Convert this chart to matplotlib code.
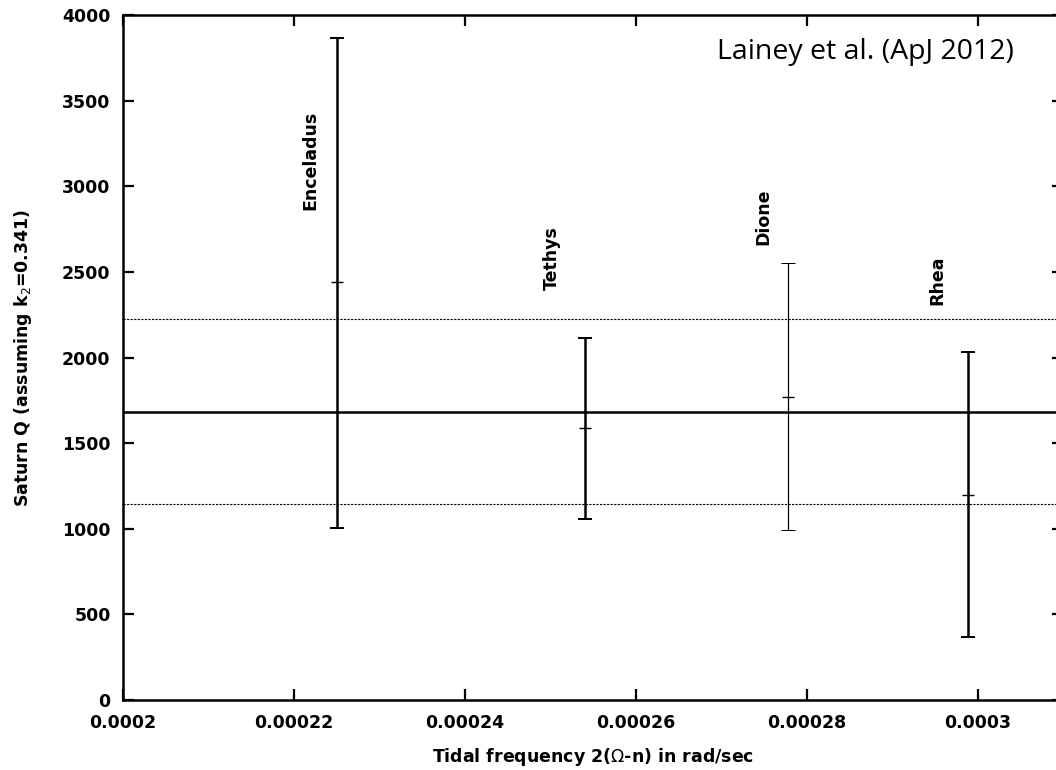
import numpy as np
from matplotlib import pyplot as plt

# Saturn Q estimates from each moon's tidal frequency
moons = ["Enceladus", "Tethys", "Dione", "Rhea"]
freq = [0.000225, 0.000254, 0.0002778, 0.0002988]
q_mid = [2440, 1588, 1768, 1199]
q_low = [1005, 1056, 993, 370]
q_high = [3867, 2116, 2550, 2030]
bar_widths = [1.8, 1.8, 0.9, 1.8]

# label anchors (start of the rotated text)
label_x = [0.0002219, 0.0002502, 0.0002749, 0.0002953]
label_y = [2861, 2394, 2657, 2307]

q_mean = 1684
q_band = [1145, 2223]

xticks = [0.0002, 0.00022, 0.00024, 0.00026, 0.00028, 0.0003]
xticklabels = ["0.0002", "0.00022", "0.00024", "0.00026", "0.00028", "0.0003"]
yticks = [0, 500, 1000, 1500, 2000, 2500, 3000, 3500, 4000]

plt.rcParams["font.family"] = ["DejaVu Sans"]
fig = plt.figure(figsize=(10.56, 7.7), dpi=100)
ax = fig.add_axes([0.1165, 0.0909, 0.8906, 0.8896])

ax.axhline(q_mean, color="black", linewidth=1.8)
for level in q_band:
    ax.axhline(level, color="black", linewidth=0.8, linestyle=(0, (2, 1.2)))

for i in range(len(moons)):
    ax.errorbar(
        freq[i], q_mid[i],
        yerr=[[q_mid[i] - q_low[i]], [q_high[i] - q_mid[i]]],
        fmt="none", ecolor="black", elinewidth=bar_widths[i],
        capsize=4.7, capthick=bar_widths[i] * 0.8,
    )
    ax.plot(freq[i], q_mid[i], marker="_", color="black",
            markersize=8, markeredgewidth=1.0)
    ax.text(label_x[i], label_y[i], moons[i], rotation=90,
            ha="center", va="bottom", fontsize=12.5, fontweight="bold")

ax.set_xlim(0.0002, 0.00031)
ax.set_ylim(0, 4000)
ax.set_xticks(xticks)
ax.set_xticklabels(xticklabels)
ax.set_yticks(yticks)
ax.tick_params(direction="in", length=8, width=1.6, top=True, right=True,
               labelsize=12.5)
ax.tick_params(axis="x", pad=10)
ax.tick_params(axis="y", pad=9)
for lab in ax.get_xticklabels() + ax.get_yticklabels():
    lab.set_fontweight("bold")
for spine in ax.spines.values():
    spine.set_linewidth(1.8)

ax.set_xlabel(r"Tidal frequency 2($\Omega$-n) in rad/sec",
              fontsize=12.5, fontweight="bold", labelpad=10)
ax.set_ylabel(r"Saturn Q (assuming k$_2$=0.341)",
              fontsize=12.5, fontweight="bold", labelpad=20)

fig.text(0.679, 0.933, "Lainey et al. (ApJ 2012)", fontsize=20.5,
         family=["Open Sans", "DejaVu Sans"], ha="left", va="center")

plt.savefig("out.png", dpi=100)
plt.close()
